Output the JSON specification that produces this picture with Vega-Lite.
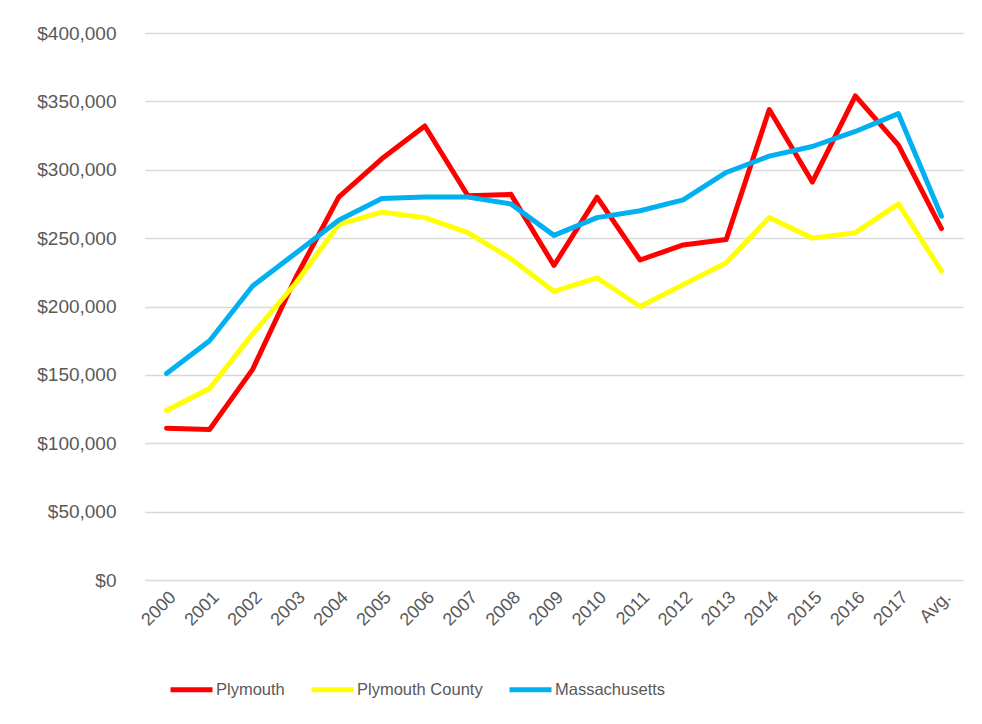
{
  "$schema": "https://vega.github.io/schema/vega-lite/v6.json",
  "width": 818,
  "height": 547,
  "autosize": {"type": "none"},
  "padding": {"left": 145, "top": 33, "right": 19, "bottom": 144},
  "background": "white",
  "config": {
    "view": {"stroke": null},
    "font": "Liberation Sans"
  },
  "data": {
    "values": [
      {"year": "2000", "series": "Plymouth", "value": 111000},
      {"year": "2001", "series": "Plymouth", "value": 110000},
      {"year": "2002", "series": "Plymouth", "value": 154000},
      {"year": "2003", "series": "Plymouth", "value": 221000},
      {"year": "2004", "series": "Plymouth", "value": 280000},
      {"year": "2005", "series": "Plymouth", "value": 308000},
      {"year": "2006", "series": "Plymouth", "value": 332000},
      {"year": "2007", "series": "Plymouth", "value": 281000},
      {"year": "2008", "series": "Plymouth", "value": 282000},
      {"year": "2009", "series": "Plymouth", "value": 230000},
      {"year": "2010", "series": "Plymouth", "value": 280000},
      {"year": "2011", "series": "Plymouth", "value": 234000},
      {"year": "2012", "series": "Plymouth", "value": 245000},
      {"year": "2013", "series": "Plymouth", "value": 249000},
      {"year": "2014", "series": "Plymouth", "value": 344000},
      {"year": "2015", "series": "Plymouth", "value": 291000},
      {"year": "2016", "series": "Plymouth", "value": 354000},
      {"year": "2017", "series": "Plymouth", "value": 318000},
      {"year": "Avg.", "series": "Plymouth", "value": 257000},
      {"year": "2000", "series": "Plymouth County", "value": 124000},
      {"year": "2001", "series": "Plymouth County", "value": 140000},
      {"year": "2002", "series": "Plymouth County", "value": 180000},
      {"year": "2003", "series": "Plymouth County", "value": 217000},
      {"year": "2004", "series": "Plymouth County", "value": 260000},
      {"year": "2005", "series": "Plymouth County", "value": 269000},
      {"year": "2006", "series": "Plymouth County", "value": 265000},
      {"year": "2007", "series": "Plymouth County", "value": 254000},
      {"year": "2008", "series": "Plymouth County", "value": 235000},
      {"year": "2009", "series": "Plymouth County", "value": 211000},
      {"year": "2010", "series": "Plymouth County", "value": 221000},
      {"year": "2011", "series": "Plymouth County", "value": 200000},
      {"year": "2012", "series": "Plymouth County", "value": 216000},
      {"year": "2013", "series": "Plymouth County", "value": 232000},
      {"year": "2014", "series": "Plymouth County", "value": 265000},
      {"year": "2015", "series": "Plymouth County", "value": 250000},
      {"year": "2016", "series": "Plymouth County", "value": 254000},
      {"year": "2017", "series": "Plymouth County", "value": 275000},
      {"year": "Avg.", "series": "Plymouth County", "value": 226000},
      {"year": "2000", "series": "Massachusetts", "value": 151000},
      {"year": "2001", "series": "Massachusetts", "value": 175000},
      {"year": "2002", "series": "Massachusetts", "value": 215000},
      {"year": "2003", "series": "Massachusetts", "value": 239000},
      {"year": "2004", "series": "Massachusetts", "value": 263000},
      {"year": "2005", "series": "Massachusetts", "value": 279000},
      {"year": "2006", "series": "Massachusetts", "value": 280000},
      {"year": "2007", "series": "Massachusetts", "value": 280000},
      {"year": "2008", "series": "Massachusetts", "value": 275000},
      {"year": "2009", "series": "Massachusetts", "value": 252000},
      {"year": "2010", "series": "Massachusetts", "value": 265000},
      {"year": "2011", "series": "Massachusetts", "value": 270000},
      {"year": "2012", "series": "Massachusetts", "value": 278000},
      {"year": "2013", "series": "Massachusetts", "value": 298000},
      {"year": "2014", "series": "Massachusetts", "value": 310000},
      {"year": "2015", "series": "Massachusetts", "value": 317000},
      {"year": "2016", "series": "Massachusetts", "value": 328000},
      {"year": "2017", "series": "Massachusetts", "value": 341000},
      {"year": "Avg.", "series": "Massachusetts", "value": 266000}
    ]
  },
  "mark": {"type": "line", "strokeWidth": 5, "strokeCap": "round", "strokeJoin": "round"},
  "encoding": {
    "x": {
      "field": "year",
      "type": "ordinal",
      "scale": {"type": "point", "padding": 0.5},
      "axis": {
        "title": null,
        "domain": false,
        "ticks": false,
        "labelAngle": -45,
        "labelFontSize": 18,
        "labelColor": "#595959",
        "labelPadding": 8
      }
    },
    "y": {
      "field": "value",
      "type": "quantitative",
      "scale": {"domain": [0, 400000]},
      "axis": {
        "title": null,
        "domain": false,
        "ticks": false,
        "values": [0, 50000, 100000, 150000, 200000, 250000, 300000, 350000, 400000],
        "format": "$,.0f",
        "labelFontSize": 19,
        "labelColor": "#595959",
        "labelPadding": 29,
        "gridColor": "#D9D9D9",
        "gridWidth": 1.5
      }
    },
    "color": {
      "field": "series",
      "type": "nominal",
      "sort": ["Plymouth", "Plymouth County", "Massachusetts"],
      "scale": {
        "domain": ["Plymouth", "Plymouth County", "Massachusetts"],
        "range": ["#FF0000", "#FFFF00", "#00B0F0"]
      },
      "legend": {
        "title": null,
        "orient": "none",
        "direction": "horizontal",
        "legendX": 23,
        "legendY": 633,
        "symbolType": "stroke",
        "symbolSize": 1764,
        "symbolStrokeWidth": 5,
        "labelFontSize": 16.5,
        "labelColor": "#595959",
        "labelOffset": 1,
        "columnPadding": 16
      }
    }
  }
}
